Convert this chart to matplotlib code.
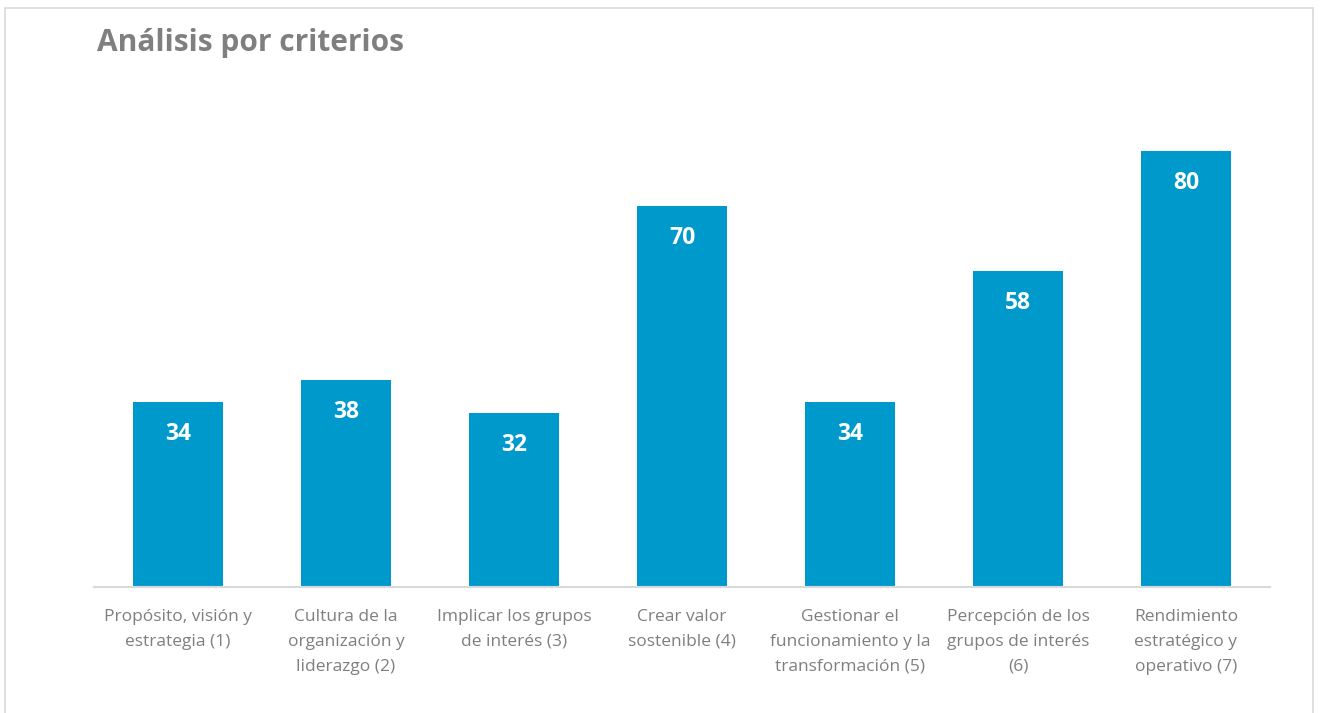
import matplotlib
matplotlib.use("Agg")
import matplotlib.pyplot as plt
from matplotlib.patches import Rectangle

plt.rcParams['font.family'] = ['Open Sans', 'DejaVu Sans']

categories = [
    "Propósito, visión y\nestrategia (1)",
    "Cultura de la\norganización y\nliderazgo (2)",
    "Implicar los grupos\nde interés (3)",
    "Crear valor\nsostenible (4)",
    "Gestionar el\nfuncionamiento y la\ntransformación (5)",
    "Percepción de los\ngrupos de interés\n(6)",
    "Rendimiento\nestratégico y\noperativo (7)",
]
values = [34, 38, 32, 70, 34, 58, 80]
title = "Análisis por criterios"

W, H = 1320, 713
fig = plt.figure(figsize=(W/100, H/100), dpi=100)
fig.patch.set_facecolor('white')

# outer border
fig.add_artist(Rectangle((5/W, -0.01), (1313-5)/W, 1 - 8/H + 0.01, transform=fig.transFigure,
                         fill=False, edgecolor='#d9d9d9', linewidth=1.2))

left, right = 94/W, 1270/W
bottom = 1 - 587/H
top = 1 - 96.5/H
ax = fig.add_axes([left, bottom, right-left, top-bottom])
x = list(range(len(values)))
bars = ax.bar(x, values, width=0.54, color='#0099CC', zorder=2)
ax.set_xlim(-0.5, len(values)-0.5)
ax.set_ylim(0, 90)
for s in ['top', 'right', 'left']:
    ax.spines[s].set_visible(False)
ax.spines['bottom'].set_color('#d9d9d9')
ax.spines['bottom'].set_linewidth(1.5)
ax.set_yticks([])
ax.set_xticks(x)
ax.set_xticklabels(categories, color='#7f7f7f', fontsize=12.5, linespacing=1.72)
ax.tick_params(axis='x', length=0, pad=16)

for xi, v in zip(x, values):
    ax.annotate(str(v), (xi, v), xytext=(0, -32), textcoords='offset pixels',
                ha='center', va='center', color='white', fontsize=16.5, fontweight='bold')

fig.text(97/W, 1 - 43/H, title, ha='left', va='center', color='#7f7f7f',
         fontsize=21.5, fontweight='bold')

fig.savefig('out.png', dpi=100)
